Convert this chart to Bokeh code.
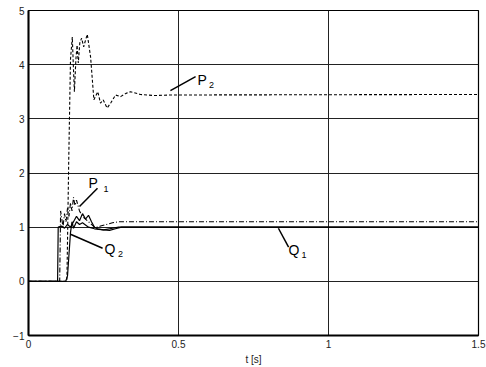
from bokeh.plotting import figure
from bokeh.models import FixedTicker
from bokeh.core.properties import value
from bokeh.embed import file_html
from bokeh.resources import INLINE

# ---- data ----
x_ticks = [0, 0.5, 1, 1.5]
y_ticks = [-1, 0, 1, 2, 3, 4, 5]

p2_t = [0, 0.128, 0.134, 0.140, 0.146, 0.150, 0.153, 0.158, 0.162, 0.166, 0.171, 0.177, 0.184, 0.190,
        0.196, 0.207, 0.218, 0.224, 0.231, 0.240, 0.249, 0.262, 0.275, 0.290, 0.307, 0.325, 0.340,
        0.373, 0.418, 0.473, 1.5]
p2_v = [0, 0, 2.2, 4.1, 4.51, 3.9, 3.5, 4.1, 4.36, 4.03, 4.4, 4.49, 4.33, 4.45,
        4.56, 4.14, 3.35, 3.42, 3.5, 3.29, 3.35, 3.2, 3.3, 3.44, 3.41, 3.47, 3.5,
        3.45, 3.43, 3.44, 3.45]

p1_t = [0, 0.104, 0.107, 0.115, 0.120, 0.125, 0.130, 0.135, 0.140, 0.145, 0.150, 0.155, 0.160,
        0.170, 0.180, 0.190, 0.200, 0.210, 0.220, 0.230, 0.240, 0.260, 0.280, 0.300, 0.350, 0.400, 1.5]
p1_v = [0, 0, 1.3, 1.0, 1.25, 1.1, 1.35, 1.2, 1.45, 1.3, 1.55, 1.4, 1.5,
        1.3, 1.2, 1.15, 1.1, 1.05, 1.0, 1.0, 1.02, 1.05, 1.08, 1.1, 1.1, 1.1, 1.1]

q1_t = [0, 0.097, 0.099, 0.110, 0.120, 0.130, 0.140, 0.150, 0.160, 0.170, 0.180, 0.190, 0.200,
        0.210, 0.220, 0.230, 0.250, 0.270, 0.290, 0.310, 0.350, 1.5]
q1_v = [0, 0, 1.0, 1.02, 0.98, 1.05, 1.0, 1.1, 1.2, 1.12, 1.25, 1.15, 1.22,
        1.1, 1.0, 0.97, 0.95, 0.94, 0.97, 1.0, 1.0, 1.0]

q2_t = [0, 0.124, 0.130, 0.135, 0.140, 0.145, 0.150, 0.160, 0.170, 0.180, 0.200, 0.220, 0.250,
        0.280, 0.300, 1.5]
q2_v = [0, 0, 0.1, 0.5, 0.9, 1.1, 0.98, 1.1, 1.05, 1.08, 1.0, 0.97, 0.95, 0.98, 1.0, 1.0]

# labels: main letter, subscript, positions, leader lines
lab_main = ["P", "P", "Q", "Q"]
lab_sub = ["2", "1", "2", "1"]
lab_x = [0.563, 0.200, 0.253, 0.867]
lab_y = [3.72, 1.82, 0.60, 0.58]
sub_x = [0.602, 0.250, 0.298, 0.910]
sub_y = [3.62, 1.70, 0.50, 0.48]
lead_x0 = [0.473, 0.230, 0.140, 0.833]
lead_y0 = [3.52, 1.72, 0.87, 0.98]
lead_x1 = [0.557, 0.170, 0.247, 0.867]
lead_y1 = [3.78, 1.38, 0.61, 0.63]

FONT = "Liberation Sans"

p = figure(width=486, height=367, output_backend="svg", toolbar_location=None,
           x_range=(0, 1.5), y_range=(-1, 5),
           min_border_left=28, min_border_right=8, min_border_top=10, min_border_bottom=30)
p.background_fill_color = "white"
p.border_fill_color = "white"
p.outline_line_color = "black"
p.outline_line_width = 1.2

p.xaxis.ticker = FixedTicker(ticks=x_ticks)
p.yaxis.ticker = FixedTicker(ticks=y_ticks)
p.xaxis.major_label_overrides = {0: "0", 0.5: "0.5", 1: "1", 1.5: "1.5"}
for ax in (p.xaxis[0], p.yaxis[0]):
    ax.major_tick_in = 0
    ax.major_tick_out = 0
    ax.minor_tick_in = 0
    ax.minor_tick_out = 0
    ax.axis_line_color = "black"
    ax.axis_line_width = 2
    ax.major_label_text_font = FONT
    ax.major_label_text_font_size = "10px"
    ax.major_label_text_color = "#222222"
    ax.major_label_standoff = 4
p.xaxis.axis_label = "t [s]"
p.xaxis.axis_label_text_font = FONT
p.xaxis.axis_label_text_font_size = "10px"
p.xaxis.axis_label_text_font_style = "normal"
p.xaxis.axis_label_text_color = "#222222"
p.xaxis.axis_label_standoff = 3

p.xgrid.grid_line_color = "#222222"
p.ygrid.grid_line_color = "#222222"
p.xgrid.grid_line_width = 1
p.ygrid.grid_line_width = 1

p.line(q1_t, q1_v, line_color="black", line_width=1.2)
p.line(q2_t, q2_v, line_color="black", line_width=1.2)
p.line(p1_t, p1_v, line_color="black", line_width=1.1, line_dash="5 2 1 2")
p.line(p2_t, p2_v, line_color="black", line_width=1.1, line_dash="3 2")

p.segment(lead_x0, lead_y0, lead_x1, lead_y1, line_color="black", line_width=1.5)
p.text(lab_x, lab_y, text=lab_main, text_font=value(FONT), text_font_size="14px",
       text_align="left", text_baseline="middle", text_color="black")
p.text(sub_x, sub_y, text=lab_sub, text_font=value(FONT), text_font_size="9px",
       text_align="left", text_baseline="middle", text_color="black")

open("out.html", "w").write(file_html(p, INLINE))
